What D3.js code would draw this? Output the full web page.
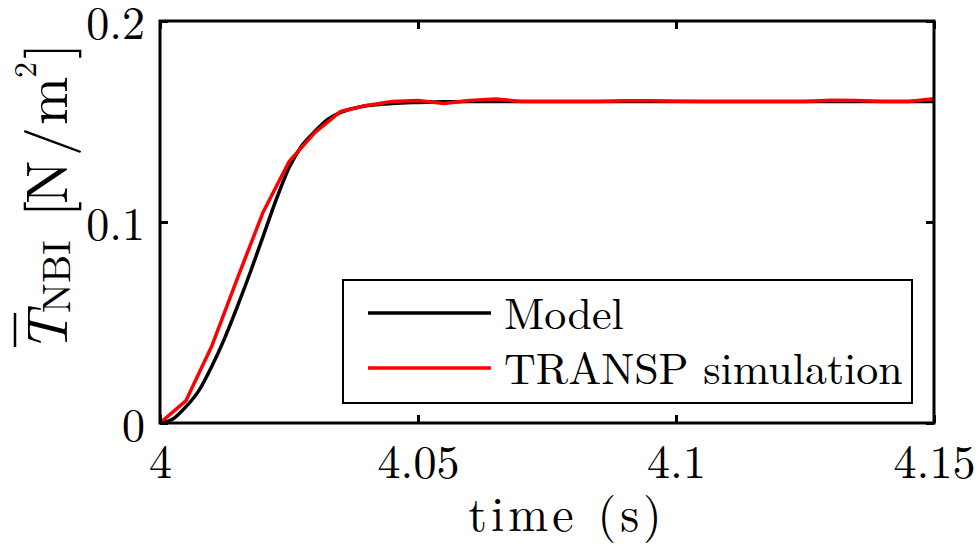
<!DOCTYPE html>
<html>
<head>
<meta charset="utf-8">
<script src="https://cdn.jsdelivr.net/npm/d3@7/dist/d3.min.js"></script>
</head>
<body style="margin:0;background:#fff">
<svg id="chart" width="979" height="544" style="display:block"></svg>
<script>
// ---- data ----
const modelTime = [4.000, 4.0025, 4.005, 4.0075, 4.010, 4.0125, 4.015, 4.0175, 4.020, 4.0225, 4.025, 4.0275, 4.030, 4.0325, 4.035, 4.0375, 4.040, 4.045, 4.050, 4.055, 4.060, 4.080, 4.100, 4.120, 4.150];
const modelValue = [0, 0.002, 0.008, 0.016, 0.028, 0.042, 0.058, 0.075, 0.093, 0.111, 0.127, 0.138, 0.145, 0.151, 0.1545, 0.1565, 0.1578, 0.159, 0.1595, 0.1598, 0.160, 0.160, 0.160, 0.160, 0.160];

const transpTime = [4.000, 4.005, 4.010, 4.015, 4.020, 4.025, 4.030, 4.035, 4.040, 4.045, 4.050, 4.055, 4.060, 4.065, 4.070, 4.075, 4.080, 4.085, 4.090, 4.095, 4.100, 4.105, 4.110, 4.115, 4.120, 4.125, 4.130, 4.135, 4.140, 4.145, 4.150];
const transpValue = [0, 0.011, 0.038, 0.072, 0.105, 0.130, 0.1445, 0.155, 0.158, 0.160, 0.1605, 0.159, 0.1605, 0.1612, 0.1600, 0.1600, 0.1600, 0.1600, 0.1603, 0.1603, 0.1601, 0.1600, 0.1600, 0.1600, 0.1600, 0.1600, 0.1606, 0.1604, 0.1600, 0.1600, 0.1613];

const xTicks = [4, 4.05, 4.1, 4.15];
const xTickLabels = ["4", "4.05", "4.1", "4.15"];
const yTicks = [0, 0.1, 0.2];
const yTickLabels = ["0", "0.1", "0.2"];
const seriesNames = ["Model", "TRANSP simulation"];
const seriesColors = ["#000000", "#ff0000"];

// ---- layout ----
const L = 160, R = 934, T = 21, B = 423;
const LM = "'Latin Modern Roman'";
const svg = d3.select("#chart");
const x = d3.scaleLinear().domain([4, 4.15]).range([L, R]);
const y = d3.scaleLinear().domain([0, 0.2]).range([B, T]);

const plotG = svg.append("g");
plotG.append("clipPath").attr("id", "clip").append("rect")
  .attr("x", L).attr("y", T - 5).attr("width", R - L).attr("height", B - T + 5);

const modelData = modelTime.map((t, i) => [t, modelValue[i]]);
const transpData = transpTime.map((t, i) => [t, transpValue[i]]);

plotG.append("path")
  .attr("d", d3.line().x(d => x(d[0])).y(d => y(d[1])).curve(d3.curveMonotoneX)(modelData))
  .attr("fill", "none").attr("stroke", seriesColors[0]).attr("stroke-width", 3.5)
  .attr("clip-path", "url(#clip)");
plotG.append("path")
  .attr("d", d3.line().x(d => x(d[0])).y(d => y(d[1]))(transpData))
  .attr("fill", "none").attr("stroke", seriesColors[1]).attr("stroke-width", 3.5)
  .attr("stroke-linejoin", "round")
  .attr("clip-path", "url(#clip)");

// ---- axes ----
const fs = 46;
const gx = svg.append("g").attr("transform", `translate(0,${B})`)
  .call(d3.axisBottom(x).tickValues(xTicks).tickFormat((d, i) => xTickLabels[i]).tickSize(-8).tickSizeOuter(0));
gx.selectAll("text").attr("y", 55).attr("dy", null).attr("fill", "#000")
  .style("font-family", LM).style("font-size", fs + "px");

const gxt = svg.append("g").attr("transform", `translate(0,${T})`)
  .call(d3.axisTop(x).tickValues(xTicks).tickFormat("").tickSize(-8).tickSizeOuter(0));

const gy = svg.append("g").attr("transform", `translate(${L},0)`)
  .call(d3.axisLeft(y).tickValues(yTicks).tickFormat((d, i) => yTickLabels[i]).tickSize(-8).tickSizeOuter(0));
gy.selectAll("text").attr("x", -15).attr("dy", 17).attr("fill", "#000")
  .style("font-family", LM).style("font-size", fs + "px");

const gyr = svg.append("g").attr("transform", `translate(${R},0)`)
  .call(d3.axisRight(y).tickValues(yTicks).tickFormat("").tickSize(-8).tickSizeOuter(0));

[gx, gxt, gy, gyr].forEach(g => {
  g.select(".domain").remove();
  g.selectAll(".tick line").attr("stroke", "#000").attr("stroke-width", 3);
});

svg.append("rect").attr("x", L).attr("y", T).attr("width", R - L).attr("height", B - T)
  .attr("fill", "none").attr("stroke", "#000").attr("stroke-width", 3);

// ---- legend ----
const lg = svg.append("g");
lg.append("rect").attr("x", 343).attr("y", 280).attr("width", 569).attr("height", 123)
  .attr("fill", "#fff").attr("stroke", "#000").attr("stroke-width", 2);
const legY = [313, 368];
seriesNames.forEach((name, i) => {
  lg.append("line").attr("x1", 368).attr("x2", 491).attr("y1", legY[i]).attr("y2", legY[i])
    .attr("stroke", seriesColors[i]).attr("stroke-width", 3.5);
  lg.append("text").attr("x", 504).attr("y", legY[i] + 16)
    .style("font-family", LM).style("font-size", "44px").text(name);
});

// ---- x label ----
svg.append("text").attr("x", 567).attr("y", 531).attr("text-anchor", "middle")
  .style("font-family", LM).style("font-size", "48px").style("letter-spacing", "4px").text("time (s)");

// ---- y label ----
const yl = svg.append("g").attr("transform", "translate(67,353) rotate(-90)");
const ylt = yl.append("text").style("font-family", LM).style("font-size", "58px");
ylt.append("tspan").attr("x", 0).attr("y", 0).style("font-style", "italic").text("T");
ylt.append("tspan").attr("x", 40).attr("y", 3).style("font-size", "40px").text("NBI");
ylt.append("tspan").attr("x", 136).attr("y", 0).text("[");
ylt.append("tspan").attr("x", 149).attr("y", 0).text("N");
ylt.append("tspan").attr("x", 197).attr("y", 0).text("/");
ylt.append("tspan").attr("x", 228).attr("y", 0).text("m");
ylt.append("tspan").attr("x", 275).attr("y", -31).style("font-size", "32px").text("2");
ylt.append("tspan").attr("x", 294).attr("y", 0).text("]");
yl.append("line").attr("x1", 6).attr("x2", 40).attr("y1", -52).attr("y2", -52)
  .attr("stroke", "#000").attr("stroke-width", 2.5);
</script>
</body>
</html>
